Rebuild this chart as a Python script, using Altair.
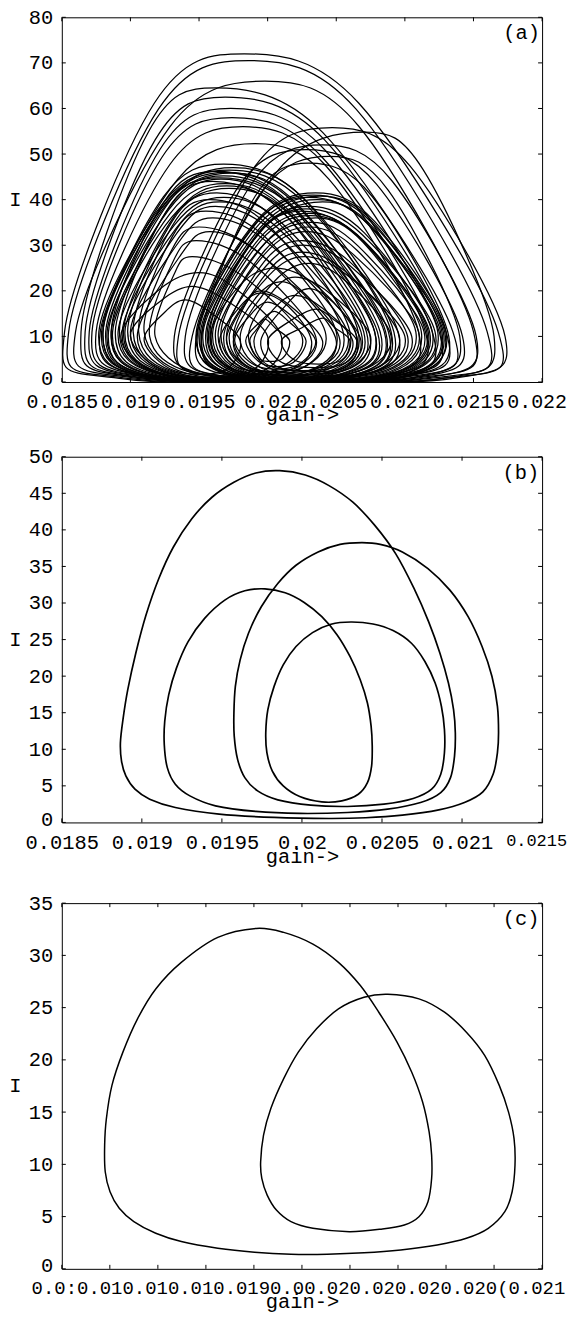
import altair as alt
import pandas as pd

FONT = "Liberation Mono"
FS = 20.5

# ---------------- panel (a): loops read off the chaotic orbit ----------------
# per loop: left extreme, left shoulder, peak, right shoulder, right extreme (gain)
A_LEFT = [0.01852, 0.01855, 0.01860, 0.01864, 0.01867, 0.01870, 0.01872, 0.01875, 0.01878,
          0.01935, 0.01945, 0.01940, 0.01932, 0.01948, 0.01952,
          0.01880, 0.01884, 0.01886, 0.01889, 0.01892, 0.01895, 0.01898, 0.01902, 0.01906, 0.01910, 0.01914, 0.01918, 0.01880, 0.01877,
          0.01948, 0.01950, 0.01953, 0.01956, 0.01958, 0.01962, 0.01966, 0.01970, 0.01975, 0.01980, 0.01986,
          0.01970, 0.01976, 0.01984, 0.01987, 0.02000, 0.02010,
          0.01900, 0.01910, 0.01893,
          0.01879, 0.01883, 0.01887, 0.01891, 0.01896, 0.01900, 0.01905, 0.01882, 0.01886, 0.01894,
          0.01949, 0.01952, 0.01955, 0.01957, 0.01960, 0.01964, 0.01968, 0.01972, 0.01951, 0.01959,
          0.01990, 0.01965, 0.01995, 0.01975, 0.01958]
A_LSH = [0.019175, 0.019205, 0.01929, 0.01913, 0.01918, 0.019215, 0.01923, 0.019285, 0.019345,
         0.01991, 0.02008, 0.0199, 0.0198, 0.019965, 0.01991,
         0.01924, 0.019295, 0.01924, 0.019285, 0.01926, 0.019325, 0.019305, 0.0193, 0.019305, 0.0193, 0.01931, 0.019315, 0.019225, 0.019245,
         0.019915, 0.0199, 0.019965, 0.01993, 0.019915, 0.019985, 0.01998, 0.019975, 0.02, 0.02005, 0.02003,
         0.019825, 0.01988, 0.019945, 0.019925, 0.020175, 0.02025,
         0.019225, 0.01925, 0.019215,
         0.01925, 0.01928, 0.01930, 0.01932, 0.01934, 0.01935, 0.01937, 0.01926, 0.01929, 0.01933,
         0.01992, 0.01995, 0.01993, 0.01994, 0.01996, 0.01998, 0.01999, 0.02001, 0.01994, 0.01995,
         0.02005, 0.01980, 0.02015, 0.01992, 0.01980]
A_PEAK_G = [0.01983, 0.01986, 0.01998, 0.01962, 0.01969, 0.01973, 0.01974, 0.01982, 0.01991,
            0.02047, 0.02071, 0.02040, 0.02028, 0.02045, 0.02030,
            0.01968, 0.01975, 0.01962, 0.01968, 0.01960, 0.01970, 0.01963, 0.01958, 0.01955, 0.01950, 0.01948, 0.01945, 0.01965, 0.01972,
            0.02035, 0.02030, 0.02040, 0.02030, 0.02025, 0.02035, 0.02030, 0.02025, 0.02025, 0.02030, 0.02020,
            0.01995, 0.02000, 0.02005, 0.01998, 0.02035, 0.02040,
            0.01945, 0.01940, 0.01950,
            0.01970, 0.01966, 0.01972, 0.01968, 0.01962, 0.01960, 0.01958, 0.01974, 0.01969, 0.01965,
            0.02033, 0.02036, 0.02028, 0.02030, 0.02032, 0.02028, 0.02026, 0.02027, 0.02038, 0.02031,
            0.02020, 0.01995, 0.02030, 0.02010, 0.02005]
A_RSH = [0.020663, 0.020643, 0.020664, 0.020399, 0.020415, 0.020414, 0.020397, 0.020419, 0.020446,
         0.021037, 0.021133, 0.020904, 0.020793, 0.020878, 0.020759,
         0.020252, 0.020268, 0.02016, 0.020175, 0.020104, 0.020132, 0.020067, 0.020017, 0.019978, 0.019914, 0.019872, 0.01981, 0.02019, 0.02026,
         0.020778, 0.020741, 0.020778, 0.020705, 0.02066, 0.020697, 0.020651, 0.020597, 0.02057, 0.02057, 0.020448,
         0.020153, 0.020158, 0.020154, 0.020061, 0.020485, 0.02049,
         0.019698, 0.01958, 0.01977,
         0.02020, 0.02015, 0.02018, 0.02012, 0.02005, 0.02000, 0.01995, 0.02022, 0.02016, 0.02008,
         0.02076, 0.02075, 0.02069, 0.02068, 0.02066, 0.02062, 0.02060, 0.02058, 0.02078, 0.02070,
         0.02040, 0.02015, 0.02048, 0.02028, 0.02035]
A_RIGHT = [0.02168, 0.02160, 0.02150, 0.02135, 0.02130, 0.02125, 0.02120, 0.02115, 0.02110,
           0.02173, 0.02165, 0.02152, 0.02142, 0.02140, 0.02132,
           0.02095, 0.02090, 0.02082, 0.02078, 0.02072, 0.02066, 0.02060, 0.02055, 0.02050, 0.02042, 0.02035, 0.02025, 0.02085, 0.02092,
           0.02130, 0.02128, 0.02124, 0.02120, 0.02116, 0.02112, 0.02108, 0.02102, 0.02096, 0.02090, 0.02075,
           0.02040, 0.02035, 0.02028, 0.02016, 0.02065, 0.02060,
           0.02000, 0.01980, 0.02010,
           0.02088, 0.02080, 0.02074, 0.02070, 0.02064, 0.02058, 0.02052, 0.02086, 0.02078, 0.02068,
           0.02129, 0.02126, 0.02122, 0.02118, 0.02114, 0.02110, 0.02105, 0.02100, 0.02127, 0.02117,
           0.02062, 0.02032, 0.02068, 0.02050, 0.02065]
A_PEAK_I = [72.0, 70.5, 66.0, 64.5, 62.5, 60.0, 58.0, 56.0, 52.3,
            55.8, 54.8, 52.0, 51.0, 49.5, 48.0,
            47.8, 47.0, 46.2, 45.2, 44.0, 43.0, 41.5, 40.0, 37.5, 34.0, 31.0, 27.5, 44.8, 46.5,
            41.5, 40.5, 39.5, 38.5, 37.5, 36.0, 34.0, 31.0, 28.5, 26.0, 23.0,
            20.0, 17.5, 15.5, 13.8, 16.0, 14.0,
            21.0, 18.0, 24.0,
            46.0, 44.5, 42.5, 40.5, 38.5, 36.0, 33.0, 45.8, 43.5, 39.5,
            41.0, 40.0, 38.0, 37.0, 35.0, 33.0, 30.0, 27.5, 40.8, 36.5,
            19.0, 19.5, 20.5, 22.0, 25.0]
A_SH_I = [61.2, 59.9, 56.1, 54.8, 53.1, 51.0, 49.3, 47.6, 44.5,
          47.4, 46.6, 44.2, 43.4, 42.1, 40.8,
          40.6, 40.0, 39.3, 38.4, 37.4, 36.6, 35.3, 34.0, 31.9, 28.9, 26.4, 23.4, 38.1, 39.5,
          35.3, 34.4, 33.6, 32.7, 31.9, 30.6, 28.9, 26.4, 24.2, 22.1, 19.6,
          17.0, 14.9, 13.2, 11.7, 13.6, 11.9,
          17.9, 15.3, 20.4,
          39.1, 37.8, 36.1, 34.4, 32.7, 30.6, 28.0, 38.9, 37.0, 33.6,
          34.9, 34.0, 32.3, 31.5, 29.8, 28.1, 25.5, 23.4, 34.7, 31.0,
          16.2, 16.6, 17.4, 18.7, 21.3]
A_SIDE_I = [11, 11, 11, 11, 11, 11, 11, 11, 11,
            10, 10, 10, 10, 10, 10,
            11, 11, 11, 11, 11, 11, 11, 11, 11, 11, 10, 10, 11, 11,
            11, 11, 11, 11, 11, 11, 11, 10, 10, 10, 10,
            9, 9, 9, 9, 9, 9,
            10, 9, 10,
            11, 11, 11, 11, 11, 11, 10, 11, 11, 11,
            11, 11, 11, 11, 11, 11, 10, 10, 11, 11,
            9, 9, 9, 9, 10]
A_BOT_LEFT = [0.01895, 0.01898, 0.01902, 0.01905, 0.01907, 0.01910, 0.01912, 0.01914, 0.01916,
              0.01968, 0.01975, 0.01972, 0.01965, 0.01978, 0.01982,
              0.01918, 0.01920, 0.01922, 0.01925, 0.01928, 0.01930, 0.01932, 0.01935, 0.01938, 0.01941, 0.01944, 0.01946, 0.01917, 0.01915,
              0.01980, 0.01982, 0.01984, 0.01986, 0.01988, 0.01990, 0.01993, 0.01996, 0.01999, 0.02002, 0.02005,
              0.01988, 0.01992, 0.01996, 0.01994, 0.02014, 0.02022,
              0.01928, 0.01932, 0.01922,
              0.01916, 0.01919, 0.01922, 0.01926, 0.01930, 0.01933, 0.01937, 0.01918, 0.01921, 0.01928,
              0.01978, 0.01981, 0.01983, 0.01985, 0.01988, 0.01991, 0.01994, 0.01997, 0.01980, 0.01986,
              0.02004, 0.01980, 0.02010, 0.01990, 0.01978]
A_BOT_RIGHT = [0.02125, 0.02118, 0.02110, 0.02098, 0.02092, 0.02088, 0.02085, 0.02080, 0.02076,
               0.02135, 0.02130, 0.02118, 0.02110, 0.02108, 0.02100,
               0.02060, 0.02056, 0.02050, 0.02046, 0.02042, 0.02036, 0.02030, 0.02026, 0.02022, 0.02015, 0.02010, 0.02002, 0.02053, 0.02058,
               0.02098, 0.02096, 0.02093, 0.02090, 0.02086, 0.02083, 0.02080, 0.02076, 0.02070, 0.02066, 0.02056,
               0.02024, 0.02020, 0.02017, 0.02010, 0.02054, 0.02052,
               0.01985, 0.01968, 0.01992,
               0.02056, 0.02050, 0.02045, 0.02040, 0.02034, 0.02028, 0.02022, 0.02054, 0.02048, 0.02038,
               0.02099, 0.02096, 0.02092, 0.02089, 0.02086, 0.02082, 0.02078, 0.02074, 0.02097, 0.02088,
               0.02048, 0.02020, 0.02055, 0.02035, 0.02050]
A_BOT_I = [0.7, 0.8, 0.9, 1.0, 1.0, 1.1, 1.1, 1.2, 1.2,
           0.8, 0.9, 1.0, 1.1, 1.1, 1.2,
           0.9, 1.0, 1.1, 1.2, 1.3, 1.4, 1.5, 1.6, 1.7, 1.9, 2.1, 2.3, 0.9, 0.8,
           1.0, 1.1, 1.2, 1.3, 1.4, 1.5, 1.7, 1.9, 2.1, 2.3, 2.6,
           3.0, 3.5, 4.0, 5.0, 3.8, 4.5,
           2.0, 2.5, 1.8,
           1.0, 1.1, 1.2, 1.3, 1.4, 1.5, 1.7, 1.0, 1.2, 1.3,
           1.0, 1.1, 1.2, 1.3, 1.5, 1.6, 1.8, 2.0, 1.0, 1.4,
           3.2, 3.0, 3.0, 2.8, 2.5]

# ---------------- panel (b): period-4 orbit ----------------
B_GAIN = [0.018900, 0.018957, 0.019049, 0.019209, 0.019483, 0.019826, 0.020169, 0.020398, 0.020627, 0.020855,
          0.021015, 0.021130, 0.021194, 0.021221, 0.021228, 0.021221, 0.021187, 0.021125, 0.021038, 0.020924,
          0.020787, 0.020627, 0.020489, 0.020375, 0.020238, 0.020101, 0.019963, 0.019849, 0.019746, 0.019666,
          0.019614, 0.019584, 0.019575, 0.019577, 0.019598, 0.019643, 0.019723, 0.019849, 0.020055, 0.020284,
          0.020512, 0.020695, 0.020810, 0.020867, 0.020890, 0.020890, 0.020871, 0.020832, 0.020768, 0.020684,
          0.020569, 0.020444, 0.020306, 0.020181, 0.020066, 0.019963, 0.019883, 0.019826, 0.019787, 0.019774,
          0.019781, 0.019815, 0.019883, 0.019986, 0.020124, 0.020249, 0.020352, 0.020409, 0.020435, 0.020439,
          0.020432, 0.020409, 0.020364, 0.020300, 0.020220, 0.020124, 0.020014, 0.019895, 0.019769, 0.019643,
          0.019518, 0.019392, 0.019289, 0.019216, 0.019168, 0.019143, 0.019140, 0.019159, 0.019209, 0.019300,
          0.019460, 0.019712, 0.019986, 0.020284, 0.020535, 0.020741, 0.020867, 0.020928, 0.020953, 0.020958,
          0.020947, 0.020915, 0.020862, 0.020791, 0.020700, 0.020585, 0.020455, 0.020318, 0.020169, 0.020021,
          0.019861, 0.019712, 0.019575, 0.019438, 0.019312, 0.019197, 0.019106, 0.019026, 0.018962, 0.018912,
          0.018882, 0.018866, 0.018873]
B_I = [6.35, 4.54, 3.18, 2.04, 1.13, 0.68, 0.54, 0.64, 1.00, 1.72,
       2.72, 4.17, 6.58, 9.53, 12.25, 15.88, 19.96, 24.05, 28.13, 31.76,
       34.71, 36.98, 38.02, 38.25, 38.02, 36.98, 35.16, 32.67, 29.49, 25.86,
       22.23, 18.60, 14.97, 11.80, 8.62, 6.13, 4.31, 3.09, 2.36, 2.18,
       2.50, 3.27, 4.54, 6.58, 9.53, 12.70, 15.88, 19.06, 22.01, 24.50,
       26.23, 27.13, 27.40, 27.09, 25.95, 24.05, 21.55, 18.60, 15.43, 12.25,
       9.53, 7.03, 4.99, 3.54, 2.81, 2.95, 3.86, 5.44, 7.71, 10.44,
       13.16, 16.33, 19.51, 22.69, 25.64, 28.13, 30.08, 31.40, 31.94, 31.67,
       30.40, 27.90, 24.73, 21.10, 17.47, 13.84, 10.66, 7.49, 5.22, 3.63,
       2.27, 1.50, 1.23, 1.36, 1.81, 2.72, 4.08, 6.13, 9.07, 12.25,
       15.43, 19.06, 23.14, 27.45, 31.99, 36.75, 40.61, 43.78, 46.05, 47.50,
       48.09, 47.78, 46.51, 44.46, 41.52, 37.66, 33.35, 28.36, 23.14, 18.15,
       14.07, 10.89, 8.39]

# ---------------- panel (c): period-2 orbit ----------------
C_GAIN = [0.019512, 0.019312, 0.019122, 0.018989, 0.018894, 0.018818, 0.018761, 0.018732, 0.018723, 0.018726,
          0.018751, 0.018799, 0.018875, 0.018989, 0.019122, 0.019312, 0.019503, 0.019693, 0.019883, 0.020073,
          0.020264, 0.020454, 0.020606, 0.020720, 0.020806, 0.020844, 0.020859, 0.020854, 0.020825, 0.020777,
          0.020701, 0.020606, 0.020492, 0.020359, 0.020197, 0.020073, 0.019940, 0.019826, 0.019731, 0.019655,
          0.019588, 0.019550, 0.019535, 0.019541, 0.019569, 0.019617, 0.019693, 0.019807, 0.019997, 0.020169,
          0.020283, 0.020359, 0.020406, 0.020425, 0.020425, 0.020412, 0.020378, 0.020321, 0.020245, 0.020150,
          0.020054, 0.019940, 0.019807, 0.019655]
C_I = [32.58, 31.72, 29.33, 26.79, 23.93, 20.74, 17.56, 14.38, 11.84, 9.29,
       7.38, 5.79, 4.52, 3.40, 2.61, 1.97, 1.59, 1.40, 1.40, 1.53,
       1.81, 2.29, 2.93, 3.88, 5.47, 7.38, 9.93, 12.47, 15.02, 17.56,
       20.43, 22.65, 24.56, 25.84, 26.28, 25.99, 24.88, 22.97, 20.74, 18.20,
       15.34, 12.79, 10.24, 8.65, 7.06, 5.63, 4.52, 3.88, 3.56, 3.82,
       4.20, 4.99, 6.43, 8.65, 10.88, 13.11, 15.97, 18.84, 21.70, 24.56,
       27.11, 29.33, 31.08, 32.20]

# ---------------- axes / labels ----------------
A_XTICKS = [0.0185, 0.019, 0.0195, 0.02, 0.0205, 0.021, 0.0215, 0.022]
A_YTICKS = [0, 10, 20, 30, 40, 50, 60, 70, 80]
B_XTICKS = [0.0185, 0.019, 0.0195, 0.02, 0.0205, 0.021, 0.0215]
B_YTICKS = [0, 5, 10, 15, 20, 25, 30, 35, 40, 45, 50]
C_XTICKS = [0.0185, 0.01875, 0.019, 0.01925, 0.0195, 0.01975, 0.02, 0.02025, 0.0205, 0.02075, 0.021]
C_YTICKS = [0, 5, 10, 15, 20, 25, 30, 35]
# the tick labels of (c) print on top of each other; this is the run of text they leave
C_XLABEL_TEXT = "0.0:0.010.010.010.0190.00.020.020.020.020(0.021"
C_XLABEL_AT = 0.01975
PANEL_TAGS = ["(a)", "(b)", "(c)"]
TAG_G = [0.02185, 0.021367, 0.020891]
TAG_I = [76.5, 47.75, 33.47]

W = 482
H_A, H_B, H_C = 366, 367, 367
TL = 4  # inward tick length


def loops_a():
    rows = []
    for k in range(len(A_LEFT)):
        pts = [(A_BOT_LEFT[k], A_BOT_I[k]), (A_BOT_RIGHT[k], A_BOT_I[k]),
               (A_RIGHT[k], A_SIDE_I[k]), (A_RSH[k], A_SH_I[k]),
               (A_PEAK_G[k], A_PEAK_I[k]), (A_LSH[k], A_SH_I[k]),
               (A_LEFT[k], A_SIDE_I[k])]
        for j, (g, i) in enumerate(pts):
            rows.append({"loop": k, "k": j, "g": g, "I": i})
    return pd.DataFrame(rows)


def path_df(gs, Is):
    return pd.DataFrame({"loop": 0, "k": range(len(gs)), "g": gs, "I": Is})


def cond(test, yes, no):
    return {"condition": {"test": test, "value": yes}, "value": no}


def panel(df, xdom, ydom, xt, yt, H, tag_idx, sw, x_extra, title_y=33, bottom_room=None):
    xs = alt.Scale(domain=xdom, nice=False, zero=False)
    ys = alt.Scale(domain=ydom, nice=False, zero=False)
    xa = dict(values=xt, title="gain->", labelFlush=False, labelOverlap=False,
              labelPadding=10, titleY=title_y, titleBaseline="middle",
              format="~g", labelLimit=0)
    xa.update(x_extra)
    xaxis = alt.Axis(**xa)
    yaxis = alt.Axis(values=yt, title="I", titleAngle=0, titleX=-47, titleY=H / 2,
                     titleAlign="center", titleBaseline="middle", labelPadding=9,
                     labelOffset=cond("datum.value == 0", -3, 0))
    X = lambda: alt.X("g:Q", scale=xs, axis=xaxis)
    Y = lambda: alt.Y("I:Q", scale=ys, axis=yaxis)
    lines = alt.Chart(df).mark_line(
        color="black", strokeWidth=sw, interpolate="cardinal-closed", tension=0, clip=True
    ).encode(x=X(), y=Y(), detail="loop:N", order="k:Q")
    xt_df = pd.DataFrame({"g": xt})
    yt_df = pd.DataFrame({"I": yt})
    rule = dict(color="black", strokeWidth=1)
    bot = alt.Chart(xt_df).mark_rule(**rule).encode(x=X(), y=alt.value(H), y2=alt.value(H - TL))
    top = alt.Chart(xt_df).mark_rule(**rule).encode(x=X(), y=alt.value(0), y2=alt.value(TL))
    left = alt.Chart(yt_df).mark_rule(**rule).encode(y=Y(), x=alt.value(0), x2=alt.value(TL))
    right = alt.Chart(yt_df).mark_rule(**rule).encode(y=Y(), x=alt.value(W), x2=alt.value(W - TL))
    tag_df = pd.DataFrame({"g": [TAG_G[tag_idx]], "I": [TAG_I[tag_idx]], "t": [PANEL_TAGS[tag_idx]]})
    tag = alt.Chart(tag_df).mark_text(
        font=FONT, fontSize=FS, color="black", align="center", baseline="middle"
    ).encode(x=X(), y=Y(), text="t:N")
    layers = [lines, bot, top, left, right, tag]
    if bottom_room:
        # invisible spacer that keeps the gap below this panel as wide as in the figure
        layers.append(alt.Chart(xt_df.head(1)).mark_rule(strokeOpacity=0).encode(
            x=alt.value(0), y=alt.value(H + bottom_room - 1), y2=alt.value(H + bottom_room)))
    return alt.layer(*layers).properties(width=W, height=H)


pa = panel(loops_a(), [0.0185, 0.022], [0, 80], A_XTICKS, A_YTICKS, H_A, 0, 1.25,
           {"labelFontSize": 20, "labelOffset": cond("datum.value > 0.0202", -5.5, 0)})
pb = panel(path_df(B_GAIN, B_I), [0.0185, 0.0215], [0, 50], B_XTICKS, B_YTICKS, H_B, 1, 1.7,
           {"labelOffset": cond("datum.value == 0.0215", -6, 0),
            "labelFontSize": cond("datum.value == 0.0215", 17, FS)},
           title_y=34, bottom_room=49)
pc = panel(path_df(C_GAIN, C_I), [0.0185, 0.021], [0, 35], C_XTICKS, C_YTICKS, H_C, 2, 1.5,
           {"labelExpr": f"datum.value == {C_XLABEL_AT} ? '{C_XLABEL_TEXT}' : ''",
            "labelOffset": -4, "labelFontSize": 19})

chart = alt.vconcat(pa, pb, pc, spacing=20).properties(
    padding={"left": 0, "top": -4, "right": 0, "bottom": 0}
).configure_view(
    stroke="black", strokeWidth=1
).configure_axis(
    labelFont=FONT, labelFontSize=FS, titleFont=FONT, titleFontSize=FS,
    titleFontWeight="normal", labelColor="black", titleColor="black",
    ticks=False, domain=False, grid=False,
)

chart.save("out.html", embed_options={"renderer": "svg", "actions": False})
